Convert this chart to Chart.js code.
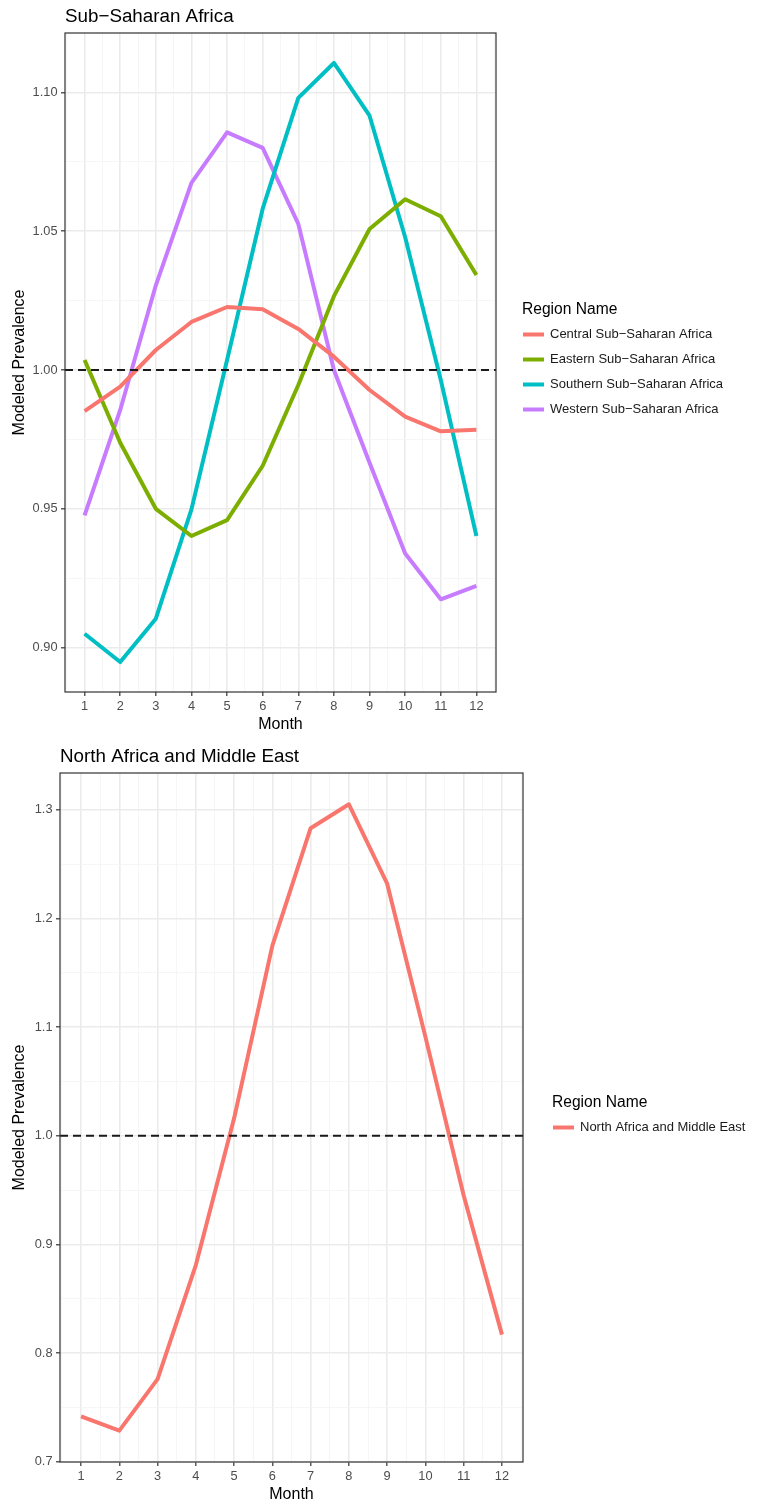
<!DOCTYPE html>
<html><head><meta charset="utf-8">
<script src="https://cdn.jsdelivr.net/npm/chart.js@4.4.1/dist/chart.umd.min.js"></script>
<style>
html,body{margin:0;padding:0;background:#fff;}
#c1{position:absolute;left:0;top:0;}
#c2{position:absolute;left:0;top:740px;}
</style>
</head><body>
<canvas id="c1" width="757" height="740"></canvas>
<canvas id="c2" width="757" height="767"></canvas>
<script>
// ---------------- DATA ----------------
const MONTHS = [1, 2, 3, 4, 5, 6, 7, 8, 9, 10, 11, 12];
const X_TICK_LABELS = ['1','2','3','4','5','6','7','8','9','10','11','12'];

const PANEL1_TITLE = 'Sub\u2212Saharan Africa';
const PANEL1_NAMES = ['Central Sub\u2212Saharan Africa', 'Eastern Sub\u2212Saharan Africa', 'Southern Sub\u2212Saharan Africa', 'Western Sub\u2212Saharan Africa'];
const CENTRAL  = [0.9852, 0.9940, 1.0072, 1.0173, 1.0227, 1.0219, 1.0148, 1.0048, 0.9928, 0.9832, 0.9779, 0.9785];
const EASTERN  = [1.0036, 0.9738, 0.9500, 0.9402, 0.9459, 0.9655, 0.9946, 1.0266, 1.0508, 1.0615, 1.0554, 1.0342];
const SOUTHERN = [0.9050, 0.8948, 0.9104, 0.9498, 1.0036, 1.0581, 1.0980, 1.1106, 1.0916, 1.0478, 0.9964, 0.9402];
const WESTERN  = [0.9476, 0.9856, 1.0305, 1.0674, 1.0856, 1.0800, 1.0526, 1.0000, 0.9666, 0.9339, 0.9174, 0.9222];
const PANEL1_Y_TICKS = ['0.90', '0.95', '1.00', '1.05', '1.10'];

const PANEL2_TITLE = 'North Africa and Middle East';
const PANEL2_NAMES = ['North Africa and Middle East'];
const NAME_VALUES = [0.7417, 0.7286, 0.7760, 0.8810, 1.0160, 1.1750, 1.2830, 1.3050, 1.2320, 1.0910, 0.9450, 0.8170];
const PANEL2_Y_TICKS = ['0.7', '0.8', '0.9', '1.0', '1.1', '1.2', '1.3'];

const REF_VALUE = 1.0;
const LEGEND_TITLE = 'Region Name';
const X_TITLE = 'Month';
const Y_TITLE = 'Modeled Prevalence';

const COLORS = ['#F8766D', '#7CAE00', '#00BFC4', '#C77CFF'];

// ---------------- HELPERS ----------------
const FONT = "'Liberation Sans', Arial, Helvetica, sans-serif";
Chart.defaults.font.family = FONT;

function expand(vals, mult) {
  const lo = Math.min(...vals), hi = Math.max(...vals), d = (hi - lo) * mult;
  return [lo - d, hi + d];
}

function tickSet(labels, lo, hi) {
  const major = labels.map(parseFloat);
  const step = major[1] - major[0];
  const minor = [];
  for (let i = -1; i < major.length; i++) {
    const v = major[0] + (i + 0.5) * step;
    if (v >= lo && v <= hi) minor.push(v);
  }
  const all = major.concat(minor).sort((a, b) => a - b);
  return { major, all, labels };
}

const isIn = (arr, v) => arr.some(m => Math.abs(m - v) < 1e-9);

const decorPlugin = {
  id: 'decor',
  afterDatasetsDraw(chart, args, opts) {
    const { ctx, chartArea: a } = chart;
    const ys = chart.scales.y;
    ctx.save();
    const yp = ys.getPixelForValue(REF_VALUE);
    ctx.strokeStyle = '#1a1a1a';
    ctx.lineWidth = 1.8;
    ctx.setLineDash([8, 5]);
    ctx.beginPath();
    ctx.moveTo(a.left, yp);
    ctx.lineTo(a.right, yp);
    ctx.stroke();
    ctx.setLineDash([]);
    ctx.strokeStyle = '#333333';
    ctx.lineWidth = 1.2;
    ctx.strokeRect(a.left, a.top, a.right - a.left, a.bottom - a.top);
    ctx.restore();
  },
  afterDraw(chart, args, opts) {
    const { ctx, chartArea: a } = chart;
    ctx.save();
    ctx.fillStyle = '#000';
    ctx.textBaseline = 'middle';
    ctx.textAlign = 'left';
    ctx.font = '18.8px ' + FONT;
    ctx.fillText(opts.title, a.left, opts.titleY);
    const L = opts.legend;
    ctx.font = '15.6px ' + FONT;
    ctx.fillText(LEGEND_TITLE, L.x, L.titleY);
    ctx.font = '13px ' + FONT;
    chart.data.datasets.forEach((ds, i) => {
      const y = L.itemY + i * L.step;
      ctx.strokeStyle = ds.borderColor;
      ctx.lineWidth = 4;
      ctx.beginPath();
      ctx.moveTo(L.x + 1, y);
      ctx.lineTo(L.x + 22, y);
      ctx.stroke();
      ctx.fillStyle = '#1a1a1a';
      ctx.fillText(ds.label, L.x + 28, y);
    });
    ctx.restore();
  }
};

function makeChart(id, p) {
  const allVals = [].concat(...p.series.map(s => s.data));
  const [ylo, yhi] = expand(allVals, 0.05);
  const [xlo, xhi] = expand(MONTHS, 0.05);
  const yt = tickSet(p.yTicks, ylo, yhi);
  const xt = tickSet(X_TICK_LABELS, xlo, xhi);
  const canvas = document.getElementById(id);
  const H = canvas.height;

  return new Chart(canvas, {
    type: 'line',
    data: {
      datasets: p.series.map((s, i) => ({
        label: s.label,
        data: MONTHS.map((m, k) => ({ x: m, y: s.data[k] })),
        borderColor: COLORS[i],
        backgroundColor: COLORS[i],
        borderWidth: 4,
        pointRadius: 0,
        tension: 0,
        borderJoinStyle: 'round',
        borderCapStyle: 'butt',
        fill: false
      }))
    },
    options: {
      responsive: false,
      animation: false,
      devicePixelRatio: 1,
      layout: { padding: { left: 0, top: p.plotTop, right: 757 - p.plotRight, bottom: 0 } },
      plugins: {
        legend: { display: false },
        tooltip: { enabled: false },
        title: { display: false },
        decor: { title: p.title, titleY: p.titleY, legend: p.legend }
      },
      scales: {
        x: {
          type: 'linear',
          min: xlo, max: xhi,
          afterBuildTicks: s => { s.ticks = xt.all.map(v => ({ value: v })); },
          afterFit: s => { s.height = H - p.plotBottom; },
          border: { display: false },
          grid: {
            drawOnChartArea: true,
            color: c => (c.tick && isIn(xt.major, c.tick.value)) ? '#ebebeb' : '#f4f4f4',
            lineWidth: c => (c.tick && isIn(xt.major, c.tick.value)) ? 1.6 : 0.8,
            tickColor: c => (c.tick && isIn(xt.major, c.tick.value)) ? '#333333' : 'rgba(0,0,0,0)',
            tickWidth: 1.2,
            tickLength: 4
          },
          ticks: {
            autoSkip: false, maxRotation: 0, padding: 3,
            color: '#4d4d4d', font: { size: 12.8 },
            callback: v => {
              const k = xt.major.findIndex(m => Math.abs(m - v) < 1e-9);
              return k >= 0 ? xt.labels[k] : '';
            }
          },
          title: {
            display: true, text: X_TITLE, color: '#000',
            font: { size: 16 }, padding: { top: 0, bottom: p.xTitlePad }
          }
        },
        y: {
          type: 'linear',
          min: ylo, max: yhi,
          afterBuildTicks: s => { s.ticks = yt.all.map(v => ({ value: v })); },
          afterFit: s => { s.width = p.plotLeft; },
          border: { display: false },
          grid: {
            color: c => (c.tick && isIn(yt.major, c.tick.value)) ? '#ebebeb' : '#f4f4f4',
            lineWidth: c => (c.tick && isIn(yt.major, c.tick.value)) ? 1.6 : 0.8,
            tickColor: c => (c.tick && isIn(yt.major, c.tick.value)) ? '#333333' : 'rgba(0,0,0,0)',
            tickWidth: 1.2,
            tickLength: 4
          },
          ticks: {
            autoSkip: false, padding: 3.5,
            color: '#4d4d4d', font: { size: 12.8 },
            callback: v => {
              const k = yt.major.findIndex(m => Math.abs(m - v) < 1e-9);
              return k >= 0 ? yt.labels[k] : '';
            }
          },
          title: {
            display: true, text: Y_TITLE, color: '#000',
            font: { size: 16 }, padding: { top: 10, bottom: 0 }
          }
        }
      }
    },
    plugins: [decorPlugin]
  });
}

makeChart('c1', {
  title: PANEL1_TITLE,
  titleY: 17,
  series: [
    { label: PANEL1_NAMES[0], data: CENTRAL },
    { label: PANEL1_NAMES[1], data: EASTERN },
    { label: PANEL1_NAMES[2], data: SOUTHERN },
    { label: PANEL1_NAMES[3], data: WESTERN }
  ],
  yTicks: PANEL1_Y_TICKS,
  plotLeft: 65, plotTop: 33, plotRight: 496, plotBottom: 692,
  xTitlePad: 6,
  legend: { x: 522, titleY: 310, itemY: 334.5, step: 25 }
});

makeChart('c2', {
  title: PANEL2_TITLE,
  titleY: 17,
  series: [
    { label: PANEL2_NAMES[0], data: NAME_VALUES }
  ],
  yTicks: PANEL2_Y_TICKS,
  plotLeft: 60, plotTop: 33, plotRight: 523, plotBottom: 722,
  xTitlePad: 3,
  legend: { x: 552, titleY: 362.5, itemY: 387.5, step: 25 }
});
</script>
</body></html>
